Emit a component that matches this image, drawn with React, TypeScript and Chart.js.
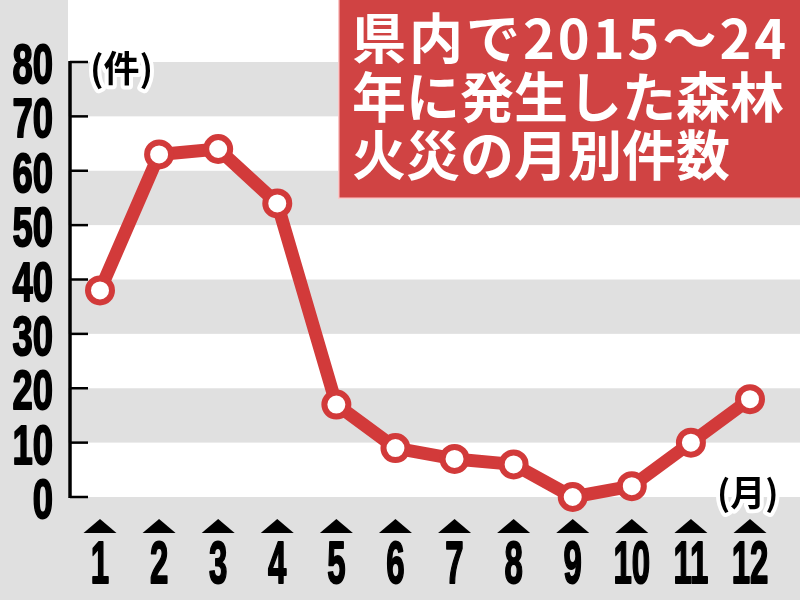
import React, { useEffect, useRef } from "react";
import { Chart, registerables } from "chart.js";

Chart.register(...registerables);

// ---- data ----
const months = ["1", "2", "3", "4", "5", "6", "7", "8", "9", "10", "11", "12"];
const fireCounts = [38, 63, 64, 54, 17, 9, 7, 6, 0, 2, 10, 18];
const yTickValues = [0, 10, 20, 30, 40, 50, 60, 70, 80];
const yTickLabels = ["0", "10", "20", "30", "40", "50", "60", "70", "80"];
const titleLines = ["県内で2015～24", "年に発生した森林", "火災の月別件数"];
const yUnit = "(件)";
const xUnit = "(月)";

// ---- styles ----
const RED = "#d23a3a";
const BOX_RED = "#d04343";
const GRAY = "#e0e0e0";
const NUM_FONT = '"Liberation Sans", "DejaVu Sans", sans-serif';
const JP_FONT = '"Noto Sans CJK JP", "Noto Sans", sans-serif';

function condensedText(
  ctx: CanvasRenderingContext2D,
  text: string,
  x: number,
  baseline: number,
  size: number,
  sx: number,
  align: CanvasTextAlign
) {
  ctx.save();
  ctx.translate(x, baseline);
  ctx.scale(sx, 1);
  ctx.font = `bold ${size}px ${NUM_FONT}`;
  ctx.textAlign = align;
  ctx.textBaseline = "alphabetic";
  ctx.fillStyle = "#000";
  ctx.strokeStyle = "#000";
  ctx.lineWidth = 2;
  ctx.lineJoin = "round";
  ctx.strokeText(text, 0, 0);
  ctx.fillText(text, 0, 0);
  ctx.restore();
}

function haloText(
  ctx: CanvasRenderingContext2D,
  text: string,
  x: number,
  baseline: number,
  size: number
) {
  ctx.save();
  ctx.font = `bold ${size}px ${JP_FONT}`;
  ctx.textAlign = "left";
  ctx.textBaseline = "alphabetic";
  ctx.lineJoin = "round";
  ctx.strokeStyle = "#fff";
  ctx.lineWidth = 8;
  ctx.strokeText(text, x, baseline);
  ctx.fillStyle = "#000";
  ctx.fillText(text, x, baseline);
  ctx.restore();
}

const decorPlugin = {
  id: "decor",
  beforeDraw(chart: any) {
    const { ctx, width, height } = chart;
    const x = chart.scales.x;
    const y = chart.scales.y;
    const axisX = 70;
    const top = y.getPixelForValue(yTickValues[yTickValues.length - 1]);
    const bottom = y.getPixelForValue(yTickValues[0]);
    ctx.save();
    // background
    ctx.fillStyle = GRAY;
    ctx.fillRect(0, 0, width, height);
    ctx.fillStyle = "#fff";
    ctx.fillRect(axisX - 2, 0, width - axisX + 2, top);
    for (let i = 0; i < yTickValues.length - 1; i += 2) {
      const y0 = y.getPixelForValue(yTickValues[i]);
      const y1 = y.getPixelForValue(yTickValues[i + 1]);
      ctx.fillRect(axisX - 2, y1, width - axisX + 2, y0 - y1);
    }
    // axis line
    ctx.strokeStyle = "#000";
    ctx.lineWidth = 3.5;
    ctx.beginPath();
    ctx.moveTo(axisX, top - 1);
    ctx.lineTo(axisX, bottom + 1);
    ctx.stroke();
    // inward ticks + labels
    ctx.lineWidth = 2.5;
    yTickValues.forEach((v, i) => {
      const py = y.getPixelForValue(v);
      ctx.beginPath();
      ctx.moveTo(axisX, py);
      ctx.lineTo(axisX + 18, py);
      ctx.stroke();
      condensedText(ctx, yTickLabels[i], 53, py + 21, 56, 0.65, "right");
    });
    // x labels with triangles
    months.forEach((m, i) => {
      const px = x.getPixelForValue(i);
      ctx.fillStyle = "#000";
      ctx.beginPath();
      ctx.moveTo(px - 16.5, bottom + 36);
      ctx.lineTo(px + 16.5, bottom + 36);
      ctx.lineTo(px, bottom + 22);
      ctx.closePath();
      ctx.fill();
      condensedText(ctx, m, px, bottom + 86, 60, 0.55, "center");
    });
    ctx.restore();
  },
  afterDraw(chart: any) {
    const { ctx, width } = chart;
    const y = chart.scales.y;
    const x = chart.scales.x;
    const top = y.getPixelForValue(yTickValues[yTickValues.length - 1]);
    const bottom = y.getPixelForValue(yTickValues[0]);
    haloText(ctx, yUnit, 90, top + 20, 36);
    const lastX = x.getPixelForValue(months.length - 1);
    haloText(ctx, xUnit, lastX - 33, bottom + 9, 35);

    // title box
    ctx.save();
    const bx = 338;
    ctx.fillStyle = BOX_RED;
    ctx.fillRect(bx, 0, width - bx, 199);
    ctx.strokeStyle = "rgba(255,215,215,0.9)";
    ctx.lineWidth = 1.5;
    ctx.strokeRect(bx + 0.75, -2, width - bx + 2, 200.25);
    ctx.fillStyle = "#fff";
    ctx.font = `bold 54px ${JP_FONT}`;
    ctx.textAlign = "left";
    ctx.textBaseline = "alphabetic";
    const baselines = [59, 118, 176];
    titleLines.forEach((t, i) => {
      (ctx as any).letterSpacing = i === 0 ? "3px" : "0px";
      ctx.fillText(t, 352, baselines[i]);
    });
    (ctx as any).letterSpacing = "0px";
    ctx.restore();
  },
};

export default function App() {
  const canvasRef = useRef<HTMLCanvasElement | null>(null);

  useEffect(() => {
    const canvas = canvasRef.current;
    if (!canvas) return;
    const chart = new Chart(canvas, {
      type: "line",
      data: {
        labels: months,
        datasets: [
          {
            data: fireCounts,
            borderColor: RED,
            borderWidth: 13,
            borderJoinStyle: "round",
            borderCapStyle: "round",
            tension: 0,
            pointRadius: 12,
            pointBorderWidth: 6,
            pointBackgroundColor: "#fff",
            pointBorderColor: RED,
            clip: false as any,
          },
        ],
      },
      options: {
        responsive: false,
        devicePixelRatio: 1,
        animation: false,
        events: [],
        layout: { padding: { left: 100, right: 50, top: 62, bottom: 103 } },
        plugins: {
          legend: { display: false },
          tooltip: { enabled: false },
          title: { display: false },
        },
        scales: {
          x: { type: "category", display: false, offset: false },
          y: { type: "linear", display: false, min: 0, max: 80 },
        },
      },
      plugins: [decorPlugin],
    });
    return () => chart.destroy();
  }, []);

  return (
    <div style={{ position: "fixed", left: 0, top: 0, width: 800, height: 600 }}>
      <canvas ref={canvasRef} width={800} height={600} style={{ display: "block" }} />
    </div>
  );
}
